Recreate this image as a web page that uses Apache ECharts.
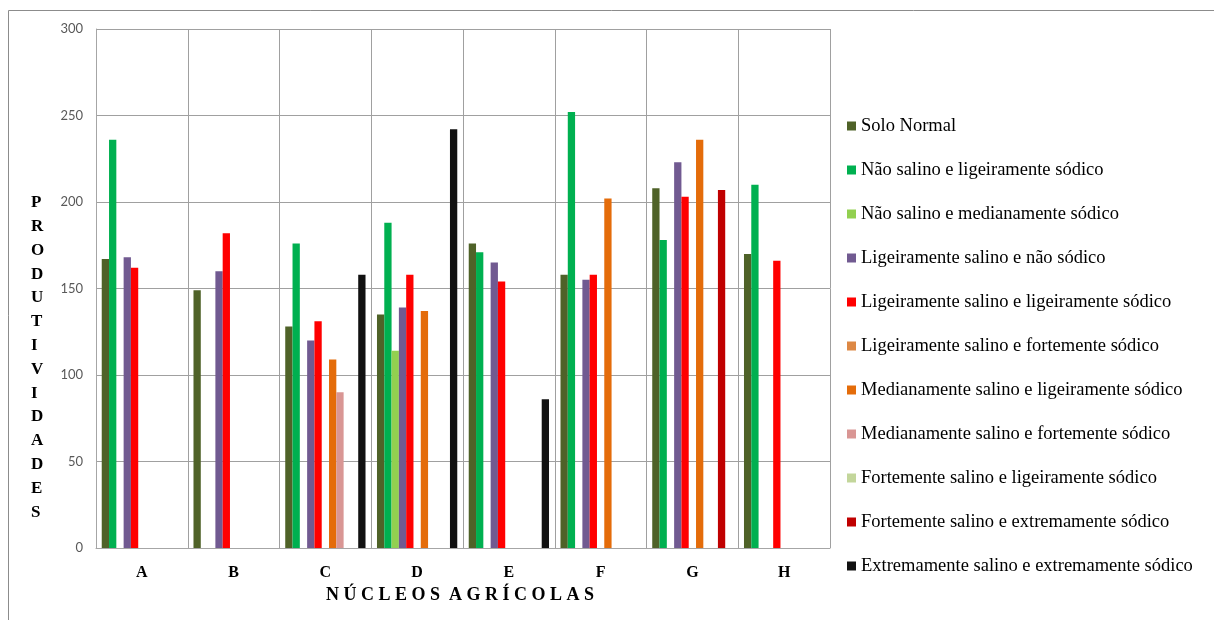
<!DOCTYPE html>
<html><head><meta charset="utf-8">
<script src="https://cdn.jsdelivr.net/npm/echarts@6/dist/echarts.min.js"></script>
<style>html,body{margin:0;padding:0;background:#fff}#c{width:1214px;height:620px}</style>
</head><body><div id="c"></div>
<script>
const categories = ['A','B','C','D','E','F','G','H'];
const yTicks = [0,50,100,150,200,250,300];
const seriesNames = [
  'Solo Normal',
  'Não salino e ligeiramente sódico',
  'Não salino e medianamente sódico',
  'Ligeiramente salino e não sódico',
  'Ligeiramente salino e ligeiramente sódico',
  'Ligeiramente salino e fortemente sódico',
  'Medianamente salino e ligeiramente sódico',
  'Medianamente salino e fortemente sódico',
  'Fortemente salino e ligeiramente sódico',
  'Fortemente salino e extremamente sódico',
  'Extremamente salino e extremamente sódico'
];
const soloNormal      = [167, 149, 128, 135, 176, 158, 208, 170];
const naoSalLigSod    = [236, null, 176, 188, 171, 252, 178, 210];
const naoSalMedSod    = [null, null, null, 114, null, null, null, null];
const ligSalNaoSod    = [168, 160, 120, 139, 165, 155, 223, null];
const ligSalLigSod    = [162, 182, 131, 158, 154, 158, 203, 166];
const ligSalForSod    = [null, null, null, null, null, null, null, null];
const medSalLigSod    = [null, null, 109, 137, null, 202, 236, null];
const medSalForSod    = [null, null, 90, null, null, null, null, null];
const forSalLigSod    = [null, null, null, null, null, null, null, null];
const forSalExtSod    = [null, null, null, null, null, null, 207, null];
const extSalExtSod    = [null, null, 158, 242, 86, null, null, null];
const seriesData = [soloNormal, naoSalLigSod, naoSalMedSod, ligSalNaoSod, ligSalLigSod, ligSalForSod, medSalLigSod, medSalForSod, forSalLigSod, forSalExtSod, extSalExtSod];
const colors = ['#4F6228','#00B050','#92D050','#715A91','#FF0000','#DD8844','#E46C0A','#D99694','#C3D69B','#C00000','#111111'];
const yTitle = 'PRODUTIVIDADES';
const xTitle = 'NÚCLEOS AGRÍCOLAS';

const chart = echarts.init(document.getElementById('c'));
const serif = '"Liberation Serif","Times New Roman",serif';
chart.setOption({
  animation: false,
  color: colors,
  grid: {left: 96, right: 384, top: 29, bottom: 72, containLabel: false},
  legend: {
    orient: 'vertical', left: 842, top: 111,
    itemWidth: 9, itemHeight: 9, itemGap: 24,
    icon: 'rect',
    textStyle: {fontFamily: serif, fontSize: 18.5, color: '#000', lineHeight: 20},
    data: seriesNames
  },
  xAxis: {
    type: 'category', data: categories,
    axisLine: {lineStyle: {color: '#A6A6A6'}},
    axisTick: {show: false},
    splitLine: {show: true, lineStyle: {color: '#A0A0A0'}},
    axisLabel: {fontFamily: serif, fontWeight: 'bold', fontSize: 16, color: '#000', margin: 17}
  },
  yAxis: {
    type: 'value', min: yTicks[0], max: yTicks[yTicks.length-1], interval: 50,
    axisLine: {show: true, lineStyle: {color: '#A6A6A6'}},
    axisTick: {show: false},
    splitLine: {lineStyle: {color: '#A0A0A0'}},
    axisLabel: {fontFamily: 'Lato, "Open Sans", sans-serif', fontSize: 13, color: '#595959', margin: 13}
  },
  graphic: [
    {type: 'rect', shape: {x: 8.5, y: 10.5, width: 1220, height: 620}, style: {fill: 'none', stroke: '#8C8C8C', lineWidth: 1}, silent: true},
    {type: 'text', left: 31, top: 191, style: {text: yTitle.split('').join('\n'), font: 'bold 17px ' + serif, fill: '#000', lineHeight: 23.8, align: 'center'}},
    {type: 'text', left: 326, top: 586, style: {text: xTitle.split('').join(' ').replace('S   A', 'S  A'), font: 'bold 18px ' + serif, fill: '#000'}}
  ],
  series: seriesNames.map((n, i) => ({
    name: n, type: 'bar', data: seriesData[i],
    barGap: '0%', barCategoryGap: '12.5%',
    itemStyle: {color: colors[i]}
  }))
});
</script></body></html>
